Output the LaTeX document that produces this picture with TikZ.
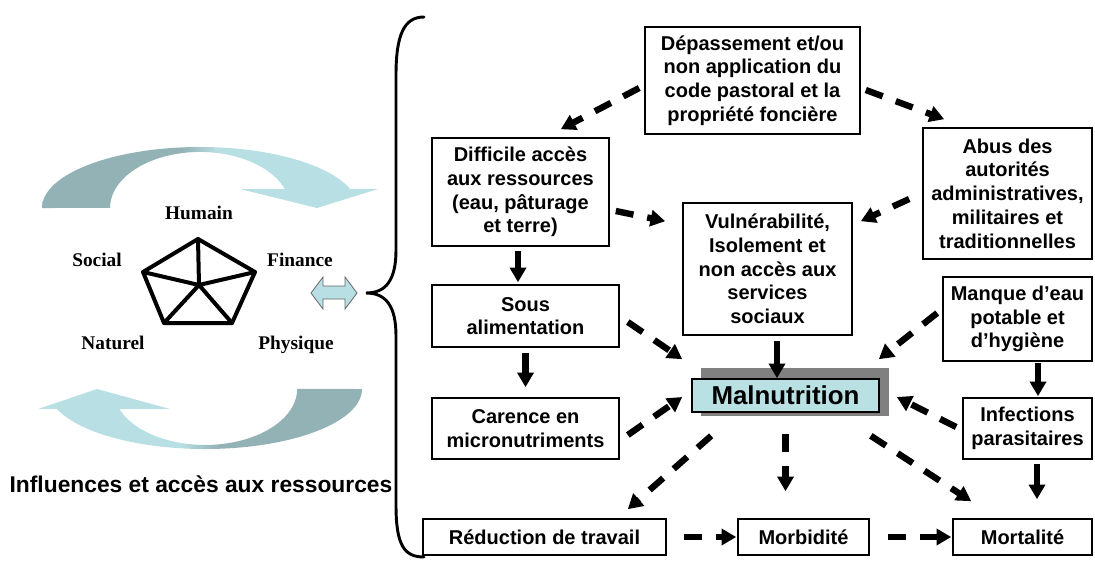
\documentclass[tikz,border=0pt]{standalone}
\usepackage{fontspec}
\setmainfont{Liberation Serif}
\setsansfont{Liberation Sans}
\usetikzlibrary{arrows.meta,calc,backgrounds}
\definecolor{tdark}{HTML}{93B2B5}
\definecolor{tlight}{HTML}{B8DFE3}
\definecolor{malfill}{HTML}{B9E0E3}
\definecolor{shadowgray}{HTML}{808080}
\pgfdeclarehorizontalshading{topsh}{100bp}{color(0bp)=(tdark); color(46bp)=(tdark); color(51bp)=(tlight); color(100bp)=(tlight)}
\pgfdeclarehorizontalshading{botsh}{100bp}{color(0bp)=(tlight); color(47bp)=(tlight); color(53bp)=(tdark); color(100bp)=(tdark)}
\tikzset{
  box/.style={draw=black, line width=1.2pt, fill=white, align=center, inner sep=0pt,
    font=\sffamily\bfseries\fontsize{15}{17.8}\selectfont},
  conn/.style={line width=4.8pt, -{Triangle[width=12pt,length=11pt]}},
  dconn/.style={conn, dash pattern=on 13.5pt off 10.5pt},
  pent/.style={anchor=base, font=\rmfamily\bfseries\fontsize{14.5}{16}\selectfont},
}
\begin{document}
\begin{tikzpicture}[x=0.75pt,y=-0.75pt]
\useasboundingbox (0,0) rectangle (1095,561);

% curved arrows
\path[shading=topsh] (42,208) arc[start angle=180, end angle=341.9, x radius=158, y radius=61]
  -- (378,189) -- (317,208) -- (240,189) -- (284.7,189)
  arc[start angle=340.2, end angle=180, x radius=90, y radius=56] -- cycle;
\path[shading=botsh] (362,389) arc[start angle=0, end angle=160.6, x radius=157, y radius=60]
  -- (38,409) -- (97,389) -- (170,409) -- (119.3,409)
  arc[start angle=159, end angle=0, x radius=92, y radius=56] -- cycle;

% pentagon
\coordinate (pc) at (199,285);
\coordinate (p1) at (198,239);
\coordinate (p2) at (255,272);
\coordinate (p3) at (232,323);
\coordinate (p4) at (164,323);
\coordinate (p5) at (143,272);
\draw[line width=3pt, line join=round] (p1) -- (p2) -- (p3) -- (p4) -- (p5) -- cycle;
\draw[line width=3pt, line cap=round] (pc) -- (p1) (pc) -- (p2) (pc) -- (p3) (pc) -- (p4) (pc) -- (p5);

\node[pent] (humain) at (199,219) {Humain};
\node[pent] (social) at (97,266) {Social};
\node[pent] (finance) at (300,266) {Finance};
\node[pent] (naturel) at (113,349) {Naturel};
\node[pent] (physique) at (296,349) {Physique};

\node[anchor=base, font=\sffamily\bfseries\fontsize{17.1}{20}\selectfont] (title) at (201,492) {Influences et accès aux ressources};

% double arrow
\draw[fill=tlight, draw=black!60, line width=0.6pt] (311,293) -- (323,277) -- (323,286) -- (345,286) -- (345,277)
  -- (357,293) -- (345,309) -- (345,299) -- (323,299) -- (323,309) -- cycle;

% brace
\draw[line width=2.2pt, line cap=round] (424,17) .. controls (404,17) and (396,35) .. (396,75) -- (396,250)
  .. controls (396,280) and (386,293) .. (366,293)
  .. controls (386,293) and (396,306) .. (396,336) -- (396,505)
  .. controls (396,545) and (404,557) .. (424,557);

% boxes
\node[box, minimum width=161.25pt, minimum height=80.25pt] (dep) at (752.5,80.5) {Dépassement et/ou\\non application du\\code pastoral et la\\propriété foncière};
\node[box, minimum width=132.75pt, minimum height=81pt] (dif) at (520.5,192) {Difficile accès\\aux ressources\\(eau, pâturage\\et terre)};
\node[box, minimum width=126.75pt, minimum height=99pt] (vul) at (767.5,269) {Vulnérabilité,\\Isolement et\\non accès aux\\services\\sociaux};
\node[box, minimum width=126.75pt, minimum height=98.25pt] (abus) at (1007.5,193.5) {Abus des\\autorités\\administratives,\\militaires et\\traditionnelles};
\node[box, minimum width=111.75pt, minimum height=63pt] (manque) at (1017.5,319) {Manque d’eau\\potable et\\d’hygiène};
\node[box, minimum width=96.75pt, minimum height=45.75pt] (inf) at (1027.5,428.5) {Infections\\parasitaires};
\node[box, minimum width=140.25pt, minimum height=46.5pt] (sous) at (525.5,316) {Sous\\alimentation};
\node[box, minimum width=140.25pt, minimum height=45.75pt] (car) at (525.5,428.5) {Carence en\\micronutriments};
\node[box, fill=malfill, minimum width=140.25pt, minimum height=24.75pt,
  font=\sffamily\bfseries\fontsize{19.4}{22}\selectfont] (mal) at (785.5,395.5) {Malnutrition};
\node[box, minimum width=182.25pt, minimum height=27pt] (red) at (544.5,537) {Réduction de travail};
\node[box, minimum width=98.25pt, minimum height=27pt] (morb) at (803.5,537) {Morbidité};
\node[box, minimum width=104.25pt, minimum height=27pt] (mort) at (1022.5,537) {Mortalité};

\begin{scope}[on background layer]
\fill[shadowgray] ($(mal.south west)+(10,3)$) rectangle ($(mal.north east)+(9,-10)$);
\end{scope}

% connectors
\draw[dconn] ($(dep.west)+(-5,7.5)$) -- ($(dif.north east)+(-49,-8)$);
\draw[dconn] ($(dep.east)+(5,9.5)$) -- ($(abus.north west)+(22,-8)$);
\draw[dconn] ($(dif.east)+(6,19)$) -- ($(vul.north west)+(-17,19)$);
\draw[dconn] ($(abus.west)+(-13,5.5)$) -- ($(vul.north east)+(8,19)$);
\draw[conn] ($(dif.south)+(-2.5,4)$) -- ($(sous.north)+(-7.5,-2)$);
\draw[conn] ($(sous.south)+(0,5)$) -- ($(car.north)+(0,-10)$);
\draw[dconn] ($(sous.east)+(8,6)$) -- ($(mal.north west)+(-9,-19)$);
\draw[dconn] ($(car.east)+(8,6.5)$) -- ($(mal.west)+(-9,1.5)$);
\draw[conn] ($(vul.south)+(9.5,5)$) -- ($(mal.north)+(-8.5,0)$);
\draw[dconn] ($(manque.west)+(-5,-6)$) -- ($(mal.north east)+(-1,-19)$);
\draw[conn] ($(manque.south)+(20.5,1)$) -- ($(inf.north)+(10.5,-1)$);
\draw[dconn] ($(inf.west)+(-6,-1.5)$) -- ($(mal.east)+(17,1.5)$);
\draw[dconn] ($(mal.south west)+(20,23)$) -- ($(red.north east)+(-39,-9)$);
\draw[dconn] ($(mal.south)+(0,21)$) -- ($(morb.north)+(-18,-27)$);
\draw[dconn] ($(mal.south east)+(-9,23)$) -- ($(mort.north west)+(19,-17)$);
\draw[conn] ($(inf.south)+(9.5,4)$) -- ($(mort.north)+(14.5,-19)$);
\draw[dconn] ($(red.east)+(17,0)$) -- ($(morb.west)+(-1,0)$);
\draw[dconn] ($(morb.east)+(18,0)$) -- ($(mort.west)+(-1,0)$);
\end{tikzpicture}
\end{document}
